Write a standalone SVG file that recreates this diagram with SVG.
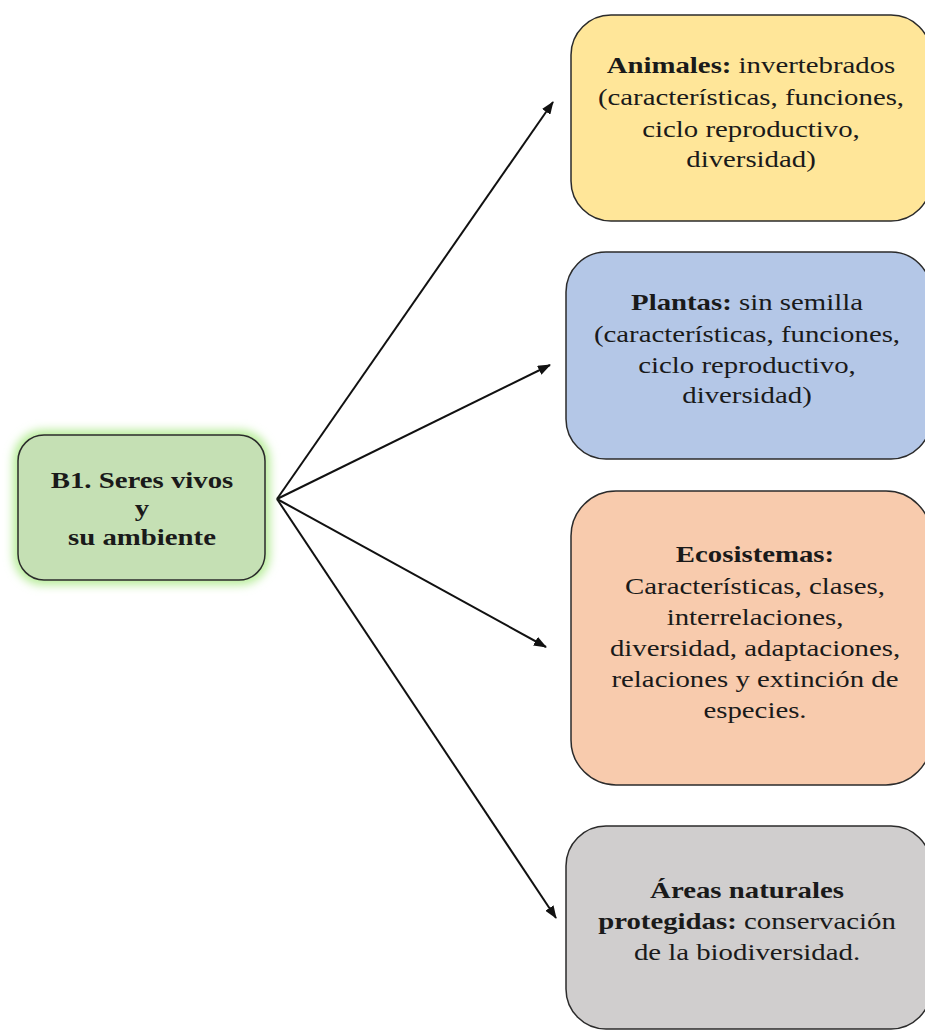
<svg xmlns="http://www.w3.org/2000/svg" width="925" height="1030" viewBox="0 0 925 1030">
  <style>
    .box { stroke: #2b2b2b; stroke-width: 1.5; }
    .t { font-family: "Liberation Serif", "Times New Roman", serif; font-size: 24px; fill: #1a1a1a; text-anchor: middle; }
    .b { font-weight: bold; }
    .link { stroke: #111; stroke-width: 2; fill: none; marker-end: url(#arrow); }
  </style>
  <defs>
    <marker id="arrow" markerWidth="13" markerHeight="10" refX="12" refY="5" orient="auto" markerUnits="userSpaceOnUse">
      <path d="M0,0 L13,5 L0,10 z" fill="#111"/>
    </marker>
    <filter id="glow" x="-20%" y="-20%" width="140%" height="140%">
      <feGaussianBlur stdDeviation="5"/>
    </filter>
  </defs>

  <rect width="925" height="1030" fill="#ffffff"/>

  <!-- connectors -->
  <g id="connectors">
    <path class="link" d="M277,499 L553,102"/>
    <path class="link" d="M277,499 L550,365"/>
    <path class="link" d="M277,499 L546,647"/>
    <path class="link" d="M277,499 L556,918"/>
  </g>

  <!-- central topic; labels are set in a slightly wide face (x scale 1.2) -->
  <g id="node-b1">
    <rect x="13" y="430" width="257" height="155" rx="30" fill="#b8ec9a" filter="url(#glow)"/>
    <rect class="box" x="18" y="435" width="247" height="145" rx="26" fill="#c5e0b4"/>
    <text class="t b" transform="translate(142,488) scale(1.2,1)">B1. Seres vivos</text>
    <text class="t b" transform="translate(142,516) scale(1.2,1)">y</text>
    <text class="t b" transform="translate(142,545) scale(1.2,1)">su ambiente</text>
  </g>

  <g id="node-animales">
    <rect class="box" x="571" y="15" width="360" height="206" rx="40" fill="#ffe699"/>
    <text class="t" transform="translate(751,73) scale(1.2,1)"><tspan class="b">Animales:</tspan> invertebrados</text>
    <text class="t" transform="translate(751,105) scale(1.2,1)">(características, funciones,</text>
    <text class="t" transform="translate(751,137) scale(1.2,1)">ciclo reproductivo,</text>
    <text class="t" transform="translate(751,167) scale(1.2,1)">diversidad)</text>
  </g>

  <g id="node-plantas">
    <rect class="box" x="566" y="252" width="365" height="207" rx="40" fill="#b4c7e7"/>
    <text class="t" transform="translate(747,310) scale(1.2,1)"><tspan class="b">Plantas:</tspan> sin semilla</text>
    <text class="t" transform="translate(747,342) scale(1.2,1)">(características, funciones,</text>
    <text class="t" transform="translate(747,373) scale(1.2,1)">ciclo reproductivo,</text>
    <text class="t" transform="translate(747,403) scale(1.2,1)">diversidad)</text>
  </g>

  <g id="node-ecosistemas">
    <rect class="box" x="571" y="491" width="360" height="294" rx="45" fill="#f8cbad"/>
    <text class="t b" transform="translate(755,562) scale(1.2,1)">Ecosistemas:</text>
    <text class="t" transform="translate(755,594) scale(1.2,1)">Características, clases,</text>
    <text class="t" transform="translate(755,625) scale(1.2,1)">interrelaciones,</text>
    <text class="t" transform="translate(755,656) scale(1.2,1)">diversidad, adaptaciones,</text>
    <text class="t" transform="translate(755,687) scale(1.2,1)">relaciones y extinción de</text>
    <text class="t" transform="translate(755,718) scale(1.2,1)">especies.</text>
  </g>

  <g id="node-areas">
    <rect class="box" x="566" y="826" width="365" height="203" rx="40" fill="#d0cece"/>
    <text class="t b" transform="translate(747,898) scale(1.2,1)">Áreas naturales</text>
    <text class="t" transform="translate(747,929) scale(1.2,1)"><tspan class="b">protegidas:</tspan> conservación</text>
    <text class="t" transform="translate(747,960) scale(1.2,1)">de la biodiversidad.</text>
  </g>
</svg>
